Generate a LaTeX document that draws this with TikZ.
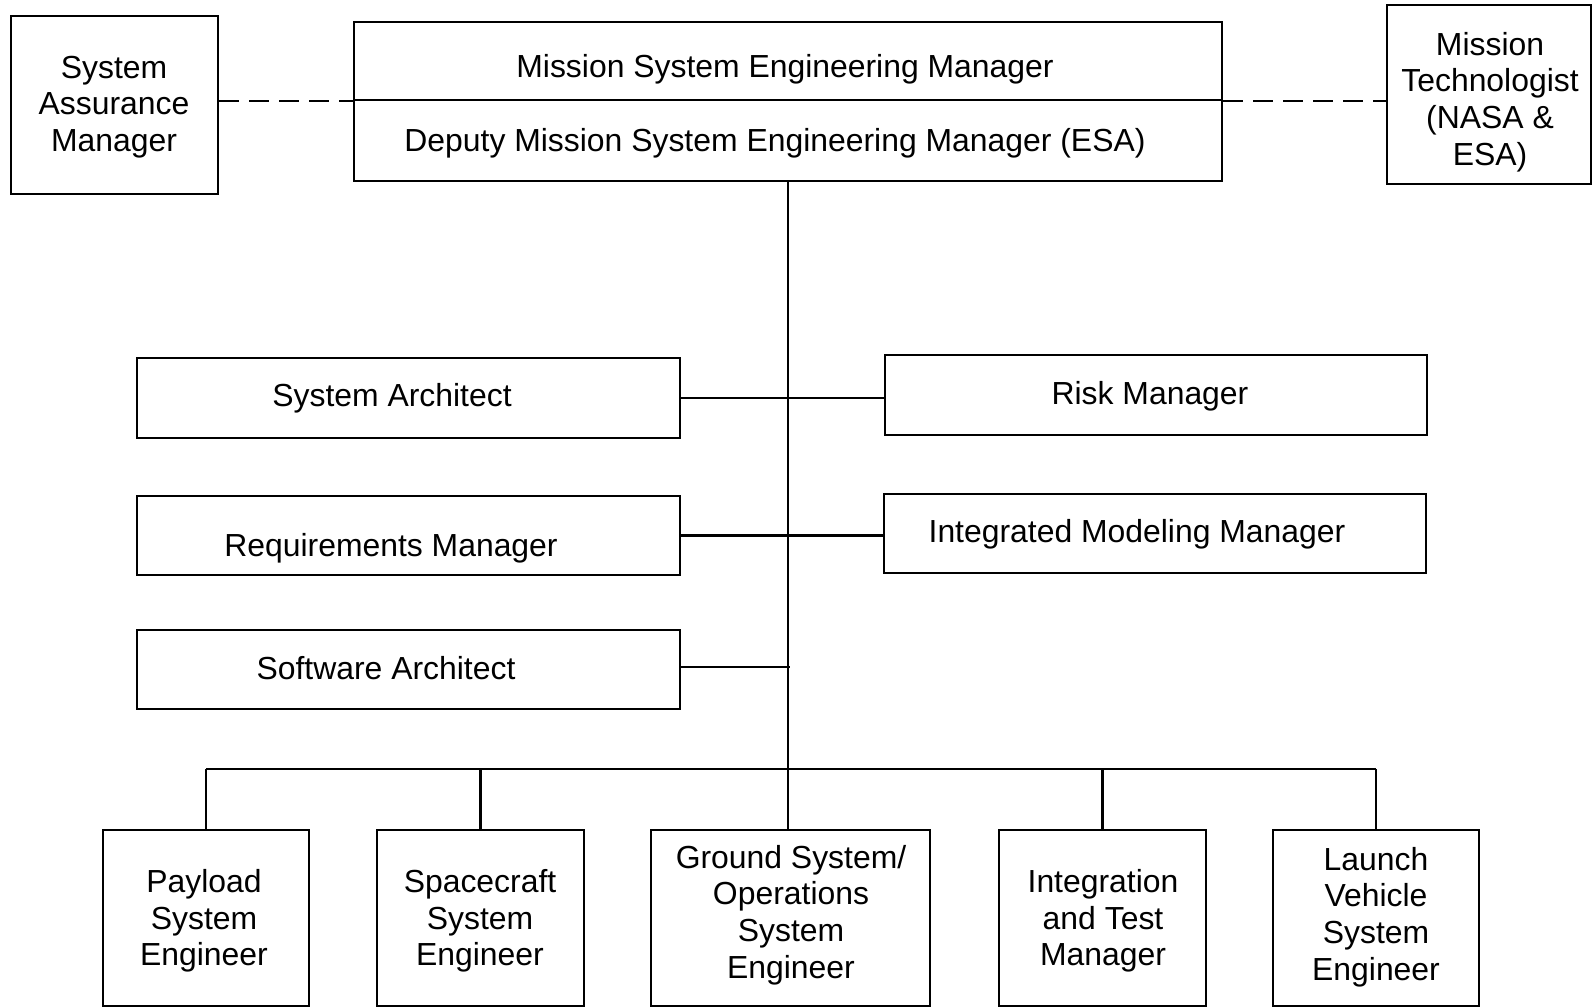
\documentclass[tikz,border=0pt]{standalone}
\usepackage{fontspec}
\setmainfont{Liberation Sans}
\begin{document}
\begin{tikzpicture}[x=1pt,y=-1pt,
  box/.style={draw, line width=2.4pt, inner sep=0pt, fill=none},
  txt/.style={font=\fontsize{31.9}{36.6}\selectfont, align=center, inner sep=0pt},
  conn/.style={line width=2.4pt},
  dashconn/.style={line width=2.4pt, dash pattern=on 20pt off 10pt}]
\useasboundingbox (0,0) rectangle (1593,1008);
% top row
\node[box, minimum width=207pt, minimum height=178pt] (sam) at (114.5,105) {};
\node[box, minimum width=868pt, minimum height=78pt] (msem) at (788,61) {};
\node[box, minimum width=868pt, minimum height=81pt] (dmsem) at (788,140.5) {};
\node[box, minimum width=204pt, minimum height=179pt] (mt) at (1489,94.5) {};
% middle rows
\node[box, minimum width=543pt, minimum height=80pt] (sa) at (408.5,398) {};
\node[box, minimum width=542pt, minimum height=80pt] (rm) at (1156,395) {};
\node[box, minimum width=543pt, minimum height=79pt] (req) at (408.5,535.5) {};
\node[box, minimum width=542pt, minimum height=79pt] (imm) at (1155,533.5) {};
\node[box, minimum width=543pt, minimum height=79pt] (swa) at (408.5,669.5) {};
% bottom row
\node[box, minimum width=206pt, minimum height=176pt] (pse) at (206,918) {};
\node[box, minimum width=207pt, minimum height=176pt] (sse) at (480.5,918) {};
\node[box, minimum width=279pt, minimum height=176pt] (gse) at (790.5,918) {};
\node[box, minimum width=207pt, minimum height=176pt] (itm) at (1102.5,918) {};
\node[box, minimum width=206pt, minimum height=176pt] (lve) at (1376,918) {};
% texts
\node[txt] (t-sam) at (114,107) {System\\Assurance\\Manager};
\node[txt] (t-mt) at (1490,102) {Mission\\Technologist\\(NASA \&\\ESA)};
\node[txt] (t-msem) at (785,69) {Mission System Engineering Manager};
\node[txt] (t-dmsem) at (775,143) {Deputy Mission System Engineering Manager (ESA)};
\node[txt] (t-sa) at (392,398) {System Architect};
\node[txt] (t-rm) at (1150,396) {Risk Manager};
\node[txt] (t-req) at (391,548) {Requirements Manager};
\node[txt] (t-imm) at (1137,534) {Integrated Modeling Manager};
\node[txt] (t-swa) at (386,668) {Software Architect};
\node[txt] (t-pse) at (204,921) {Payload\\System\\Engineer};
\node[txt] (t-sse) at (480,921) {Spacecraft\\System\\Engineer};
\node[txt] (t-gse) at (791,915) {Ground System/\\Operations\\System\\Engineer};
\node[txt] (t-itm) at (1103,921) {Integration\\and Test\\Manager};
\node[txt] (t-lve) at (1376,917) {Launch\\Vehicle\\System\\Engineer};
% dashed links
\draw[dashconn] (sam.east |- msem.south west) -- (msem.south west);
\draw[dashconn] (msem.south east) -- (mt.west |- msem.south east);
% trunk
\coordinate (bus) at (787,769);
\coordinate (swend) at (790,667);
\draw[conn] (dmsem.south) -- (dmsem.south |- gse.north);
\draw[conn] (sa.east) -- (rm.west |- sa.east);
\draw[conn] (req.east) -- (imm.west |- req.east);
\draw[conn] (swa.east |- swend) -- (swend);
% bus
\draw[conn] (pse.north |- bus) -- (lve.north |- bus);
\draw[conn] (pse.north) -- (pse.north |- bus);
\draw[conn] (sse.north) -- (sse.north |- bus);
\draw[conn] (itm.north) -- (itm.north |- bus);
\draw[conn] (lve.north) -- (lve.north |- bus);
\end{tikzpicture}
\end{document}
